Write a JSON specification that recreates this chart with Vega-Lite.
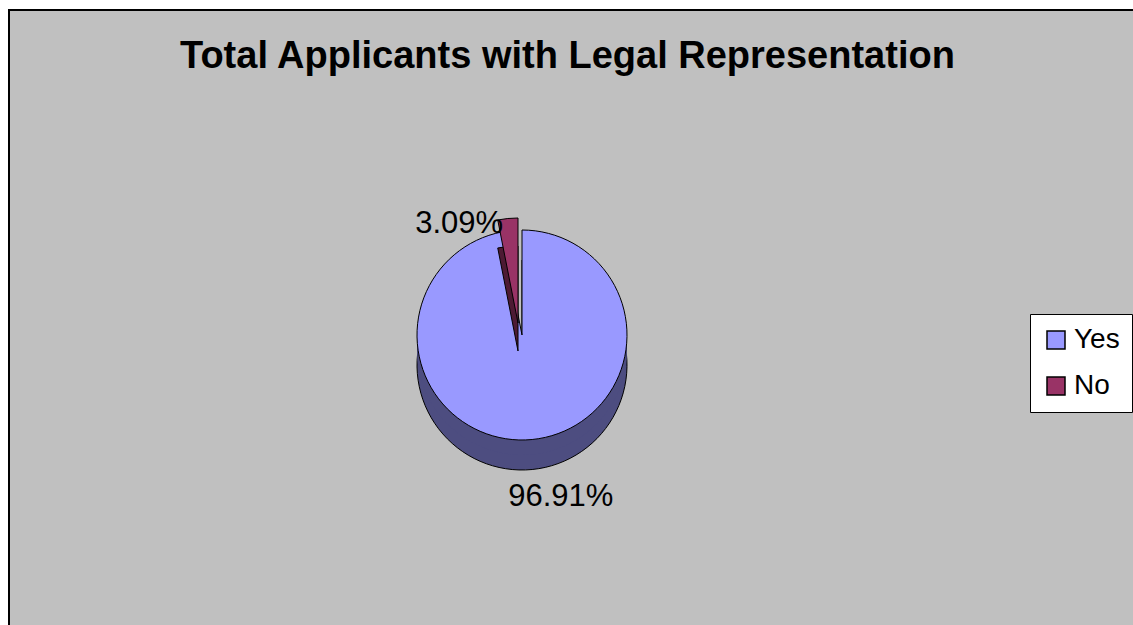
{
  "$schema": "https://vega.github.io/schema/vega-lite/v6.json",
  "width": 1150,
  "height": 630,
  "autosize": {"type": "none"},
  "padding": {"left": 9, "top": 10, "right": 0, "bottom": 0},
  "background": "white",
  "view": {"fill": "#C0C0C0", "stroke": "black", "strokeWidth": 2},
  "config": {
    "font": "Liberation Sans"
  },
  "title": {
    "text": "Total Applicants with Legal Representation",
    "font": "Liberation Sans",
    "fontSize": 38,
    "fontWeight": "bold",
    "color": "black",
    "anchor": "start",
    "dx": 171,
    "frame": "group",
    "baseline": "alphabetic",
    "offset": -96
  },
  "data": {
    "values": [
      {"Answer": "Yes", "Percent": 96.91, "Label": "96.91%"},
      {"Answer": "No", "Percent": 3.09, "Label": "3.09%"}
    ]
  },
  "transform": [
    {"stack": "Percent", "groupby": [], "as": ["t0", "t1"], "sort": [{"field": "Answer", "order": "descending"}]}
  ],
  "layer": [
    {
      "transform": [{"filter": "datum.Answer === 'Yes'"}],
      "mark": {"type": "arc", "outerRadius": 105, "fill": "#4D4D80", "stroke": "black", "strokeWidth": 1, "xOffset": -62, "yOffset": 40},
      "encoding": {
        "theta": {"field": "t0", "type": "quantitative", "scale": {"domain": [0, 100]}},
        "theta2": {"field": "t1"}
      }
    },
    {
      "transform": [{"filter": "datum.Answer === 'Yes'"}],
      "mark": {"type": "arc", "outerRadius": 105, "fill": "#4D4D80", "xOffset": -62, "yOffset": 25},
      "encoding": {
        "theta": {"field": "t0", "type": "quantitative", "scale": {"domain": [0, 100]}},
        "theta2": {"field": "t1"}
      }
    },
    {
      "transform": [{"filter": "datum.Answer === 'Yes'"}],
      "mark": {"type": "arc", "outerRadius": 105, "stroke": "black", "strokeWidth": 1, "xOffset": -62, "yOffset": 10},
      "encoding": {
        "theta": {"field": "t0", "type": "quantitative", "scale": {"domain": [0, 100]}},
        "theta2": {"field": "t1"},
        "color": {
          "field": "Answer", "type": "nominal",
          "scale": {"domain": ["Yes", "No"], "range": ["#9999FF", "#993366"]},
          "legend": {
            "title": null,
            "orient": "none",
            "legendX": 1021,
            "legendY": 304,
            "fillColor": "white",
            "strokeColor": "black",
            "padding": 12,
            "symbolType": "square",
            "symbolSize": 324,
            "symbolStrokeColor": "black",
            "symbolStrokeWidth": 1.5,
            "symbolOpacity": 1,
            "labelFontSize": 28,
            "labelFont": "Liberation Sans",
            "labelColor": "black",
            "labelOffset": 4,
            "rowPadding": 18
          }
        }
      }
    },
    {
      "transform": [{"filter": "datum.Answer === 'No'"}],
      "mark": {"type": "arc", "outerRadius": 105, "fill": "#4D1A33", "stroke": "black", "strokeWidth": 1, "xOffset": -66, "yOffset": 26},
      "encoding": {
        "theta": {"field": "t0", "type": "quantitative", "scale": {"domain": [0, 100]}},
        "theta2": {"field": "t1"}
      }
    },
    {
      "transform": [{"filter": "datum.Answer === 'No'"}],
      "mark": {"type": "arc", "outerRadius": 105, "stroke": "black", "strokeWidth": 1, "xOffset": -66, "yOffset": -2},
      "encoding": {
        "theta": {"field": "t0", "type": "quantitative", "scale": {"domain": [0, 100]}},
        "theta2": {"field": "t1"},
        "color": {"field": "Answer", "type": "nominal", "scale": {"domain": ["Yes", "No"], "range": ["#9999FF", "#993366"]}}
      }
    },
    {
      "mark": {"type": "text", "radius": 163, "fontSize": 31, "font": "Liberation Sans", "color": "black", "xOffset": -39, "yOffset": 10},
      "encoding": {
        "theta": {"field": "Percent", "type": "quantitative", "stack": true, "scale": {"domain": [0, 100]}},
        "order": {"field": "Answer", "sort": "descending"},
        "text": {"field": "Label"},
        "opacity": {"condition": {"test": "datum.Answer === 'Yes'", "value": 1}, "value": 0}
      }
    },
    {
      "mark": {"type": "text", "radius": 112, "fontSize": 31, "font": "Liberation Sans", "color": "black", "xOffset": -114, "yOffset": 10},
      "encoding": {
        "theta": {"field": "Percent", "type": "quantitative", "stack": true, "scale": {"domain": [0, 100]}},
        "order": {"field": "Answer", "sort": "descending"},
        "text": {"field": "Label"},
        "opacity": {"condition": {"test": "datum.Answer === 'No'", "value": 1}, "value": 0}
      }
    }
  ]
}
